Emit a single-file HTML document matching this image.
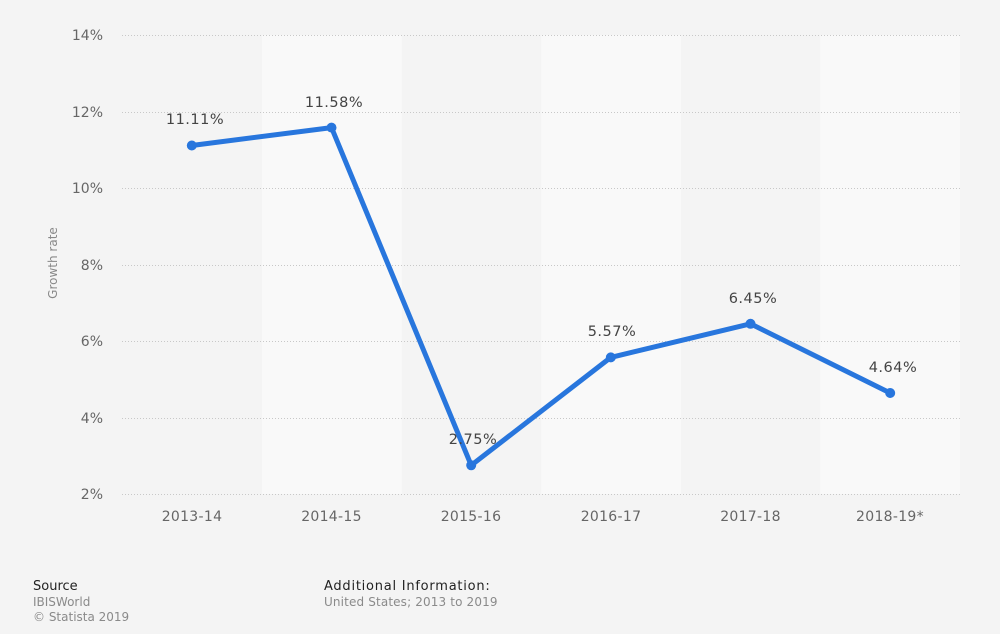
<!DOCTYPE html>
<html><head><meta charset="utf-8"><style>
html,body{margin:0;padding:0;background:#f4f4f4;}
svg{display:block;font-family:"DejaVu Sans","Liberation Sans",sans-serif;}
</style></head><body>
<svg width="1000" height="634" viewBox="0 0 1000 634" xmlns="http://www.w3.org/2000/svg">
<rect x="0" y="0" width="1000" height="634" fill="#f4f4f4"/>
<rect x="262" y="35" width="139.7" height="459" fill="#f9f9f9"/>
<rect x="541.3" y="35" width="139.7" height="459" fill="#f9f9f9"/>
<rect x="820.3" y="35" width="139.7" height="459" fill="#f9f9f9"/>
<g stroke="#c8c8c8" stroke-width="1" stroke-dasharray="1,2">
<line x1="122" y1="35.5" x2="960" y2="35.5"/>
<line x1="122" y1="112.5" x2="960" y2="112.5"/>
<line x1="122" y1="188.5" x2="960" y2="188.5"/>
<line x1="122" y1="265.5" x2="960" y2="265.5"/>
<line x1="122" y1="341.5" x2="960" y2="341.5"/>
<line x1="122" y1="418.5" x2="960" y2="418.5"/>
<line x1="122" y1="494.5" x2="960" y2="494.5"/>
</g>
<g fill="#666" font-size="14" text-anchor="end">
<text x="103" y="40">14%</text>
<text x="103" y="117">12%</text>
<text x="103" y="193">10%</text>
<text x="103" y="270">8%</text>
<text x="103" y="346">6%</text>
<text x="103" y="423">4%</text>
<text x="103" y="499">2%</text>
</g>
<text x="0" y="0" transform="translate(57,263) rotate(-90)" text-anchor="middle" fill="#888" font-size="12">Growth rate</text>
<g fill="#666" font-size="14" text-anchor="middle" letter-spacing="0.3">
<text x="192" y="521">2013-14</text>
<text x="331.5" y="521">2014-15</text>
<text x="471" y="521">2015-16</text>
<text x="611" y="521">2016-17</text>
<text x="750.5" y="521">2017-18</text>
<text x="890" y="521">2018-19*</text>
</g>
<polyline points="191.8,145.5 331.5,127.6 471.2,465.3 610.8,357.4 750.5,323.8 890.2,393" fill="none" stroke="#2876dd" stroke-width="5" stroke-linejoin="round" stroke-linecap="round"/>
<g fill="#2876dd">
<circle cx="191.8" cy="145.5" r="5"/>
<circle cx="331.5" cy="127.6" r="5"/>
<circle cx="471.2" cy="465.3" r="5"/>
<circle cx="610.8" cy="357.4" r="5"/>
<circle cx="750.5" cy="323.8" r="5"/>
<circle cx="890.2" cy="393" r="5"/>
</g>
<g fill="#444" font-size="14.5" text-anchor="middle" letter-spacing="0.5">
<text x="195" y="124">11.11%</text>
<text x="334" y="107">11.58%</text>
<text x="473" y="444">2.75%</text>
<text x="612" y="336">5.57%</text>
<text x="753" y="303">6.45%</text>
<text x="893" y="372">4.64%</text>
</g>
<text x="33" y="590" fill="#222" font-size="13">Source</text>
<text x="33" y="606" fill="#8a8a8a" font-size="12">IBISWorld</text>
<text x="33" y="621" fill="#8a8a8a" font-size="12">© Statista 2019</text>
<text x="324" y="590" fill="#222" font-size="13" letter-spacing="0.76">Additional Information:</text>
<text x="324" y="606" fill="#8a8a8a" font-size="12" letter-spacing="0.14">United States; 2013 to 2019</text>
</svg>
</body></html>
